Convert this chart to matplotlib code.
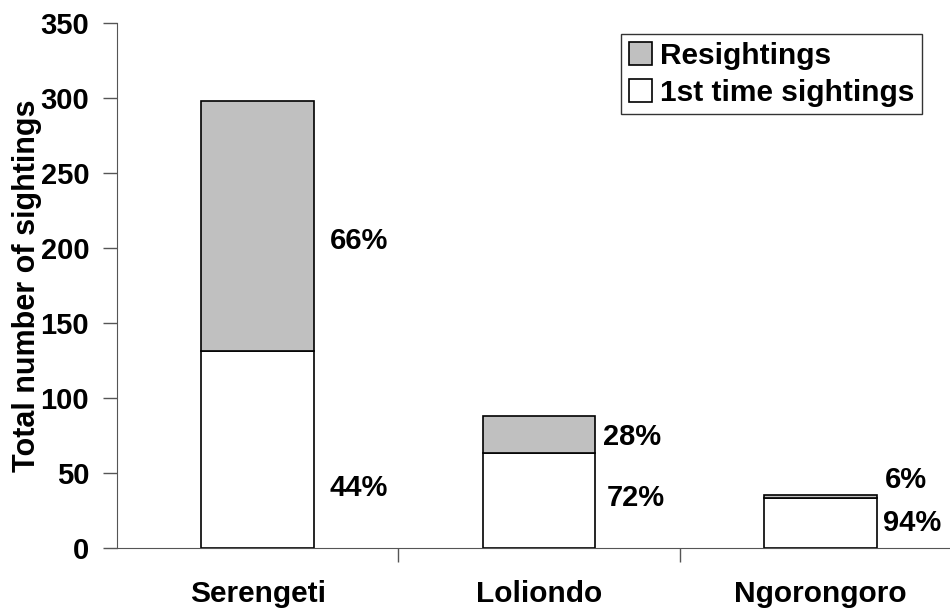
import matplotlib.pyplot as plt
import numpy as np

# data
sites = ['Serengeti', 'Loliondo', 'Ngorongoro']
first_time = [131, 63, 33]
resightings = [167, 25, 2]
pct_resight = ['66%', '28%', '6%']
pct_first = ['44%', '72%', '94%']

plt.rcParams['font.family'] = ['Liberation Sans', 'DejaVu Sans']
plt.rcParams['font.weight'] = 'bold'

fig = plt.figure(figsize=(9.5, 6.13), dpi=100)
ax = fig.add_axes([117 / 950, (613 - 547.7) / 613, (961 - 117) / 950, (547.7 - 23.3) / 613])

x = np.arange(len(sites))
w = 0.4
ax.bar(x, first_time, w, color='white', edgecolor='black', linewidth=1.2, label='1st time sightings')
ax.bar(x, resightings, w, bottom=first_time, color='#c0c0c0', edgecolor='black', linewidth=1.2,
       label='Resightings')

# percentage labels next to the bars
lbl_x_r = [0.257, 1.229, 2.228]
lbl_y_r = [205, 74, 45]
lbl_x_f = [0.257, 1.241, 2.224]
lbl_y_f = [40, 33, 16.5]
for i in range(len(sites)):
    ax.text(lbl_x_r[i], lbl_y_r[i], pct_resight[i], fontsize=21, fontweight='bold', va='center', ha='left')
    ax.text(lbl_x_f[i], lbl_y_f[i], pct_first[i], fontsize=21, fontweight='bold', va='center', ha='left')

ax.set_xlim(-0.5, 2.5)
ax.set_ylim(0, 350)
ax.set_yticks(np.arange(0, 351, 50))
ax.set_xticks(x)
ax.set_xticklabels(sites, fontsize=21.5, fontweight='bold')
ax.set_xticks([0.5, 1.5], minor=True)
ax.tick_params(axis='x', which='major', length=0, pad=23)
ax.tick_params(axis='x', which='minor', length=10, width=1, color='#555555')
ax.tick_params(axis='y', length=10, width=1, color='#555555', labelsize=21, pad=10)
for t in ax.get_yticklabels():
    t.set_fontweight('bold')

ax.spines['top'].set_visible(False)
ax.spines['right'].set_visible(False)
ax.spines['left'].set_color('#555555')
ax.spines['bottom'].set_color('#555555')

ax.set_ylabel('Total number of sightings', fontsize=22, fontweight='bold')
ax.yaxis.set_label_coords(-0.089, 0.5)

h, l = ax.get_legend_handles_labels()
leg = ax.legend(h[::-1], l[::-1], loc='upper right', bbox_to_anchor=(921.7 / 950, 1 - 34.3 / 613),
                bbox_transform=fig.transFigure, fontsize=21.5, frameon=True, fancybox=False,
                handlelength=0.8, handleheight=0.8, handletextpad=0.25, borderpad=0.25,
                labelspacing=0.3, borderaxespad=0)
leg.get_frame().set_edgecolor('black')
leg.get_frame().set_linewidth(1)
for t in leg.get_texts():
    t.set_fontweight('bold')

fig.savefig('out.png', dpi=100)
